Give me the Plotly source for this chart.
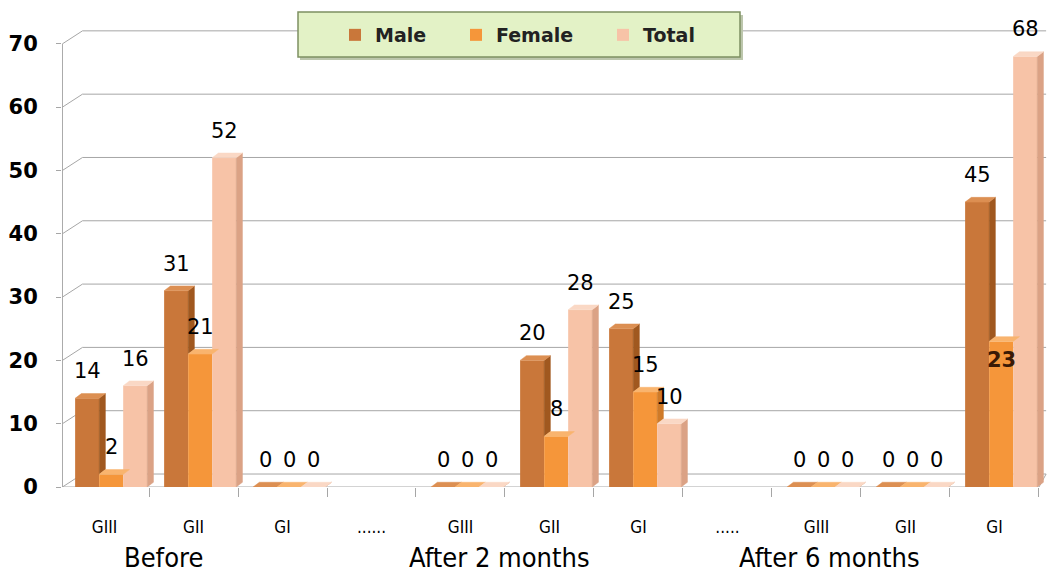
import plotly.graph_objects as go

# ---- data ----
categories = ["GIII", "GII", "GI", "......", "GIII", "GII", "GI", ".....", "GIII", "GII", "GI"]
periods = ["Before", "After 2 months", "After 6 months"]
male = [14, 31, 0, None, 0, 20, 25, None, 0, 0, 45]
female = [2, 21, 0, None, 0, 8, 15, None, 0, 0, 23]
total = [16, 52, 0, None, 0, 28, 10, None, 0, 0, 68]
y_ticks = [0, 10, 20, 30, 40, 50, 60, 70]

# ---- layout constants ----
W, H = 1051, 576
ML, MR, MT, MB = 62, 4, 28, 89
X_MIN, X_MAX = -0.4775, 10.59
Y_MIN, Y_MAX = 0, 72.5
BAR_W = 0.27
DEPTH_X, DEPTH_Y = 0.07, 0.75      # depth of each bar's top / side face
WALL_DX, WALL_DY = 0.23, 2.05      # offset of the back wall from the front axis
FRONT_RIGHT = 10.5
WALL_RIGHT = 10.58
PERIOD_X = [0.66, 4.44, 8.15]       # horizontal centre of each period caption
INSIDE_LABELS = {("Female", 10)}    # labels placed inside the top of their bar
LEGEND_PX = [335, 456, 603]         # left edge of each legend entry (pixels)

FONT_NUM = "DejaVu Sans, Liberation Sans, sans-serif"
FONT_CAT = "DejaVu Sans Condensed, Liberation Sans, sans-serif"
GRID = "#A6A6A6"

series = [
    # name, values, front, top, side, offset
    ("Male", male, "#C9773A", "#DC8F52", "#A0581F", -0.33),
    ("Female", female, "#F5963A", "#F9B46E", "#CF7A28", -0.06),
    ("Total", total, "#F7C3A7", "#FAD8C5", "#DBA285", 0.21),
]
legend_ids = ["legend", "legend2", "legend3"]


def px_x(p):
    return (p - ML) / (W - ML - MR)


def px_y(p):
    return (H - MB - p) / (H - MT - MB)


fig = go.Figure()
xs = list(range(len(categories)))

# front faces
for (name, vals, front, top, side, off), lg in zip(series, legend_ids):
    fig.add_trace(go.Bar(
        x=xs, y=vals, name=name, width=BAR_W, offset=off, legend=lg,
        marker=dict(color=front, line=dict(width=0)),
        hoverinfo="skip",
    ))

# top and side faces give the bars some depth
for k, (name, vals, front, top, side, off) in enumerate(series):
    nxt = series[k + 1][1] if k + 1 < len(series) else None
    tx, ty, sx, sy = [], [], [], []
    for i, v in enumerate(vals):
        if v is None:
            continue
        x0 = i + off
        x1 = x0 + BAR_W
        tx += [x0, x1, x1 + DEPTH_X, x0 + DEPTH_X, x0, None]
        ty += [v, v, v + DEPTH_Y, v + DEPTH_Y, v, None]
        b = 0 if nxt is None or nxt[i] is None else min(nxt[i], v)
        if v > b or nxt is None:
            sx += [x1, x1 + DEPTH_X, x1 + DEPTH_X, x1, x1, None]
            sy += [b, b + DEPTH_Y, v + DEPTH_Y, v, b, None]
    fig.add_trace(go.Scatter(x=sx, y=sy, mode="lines", fill="toself",
                             fillcolor=side, line=dict(color=side, width=0.5),
                             hoverinfo="skip", showlegend=False))
    fig.add_trace(go.Scatter(x=tx, y=ty, mode="lines", fill="toself",
                             fillcolor=top, line=dict(color=top, width=0.5),
                             hoverinfo="skip", showlegend=False))

# value labels
annotations = []
for name, vals, front, top, side, off in series:
    for i, v in enumerate(vals):
        if v is None:
            continue
        inside = (name, i) in INSIDE_LABELS
        annotations.append(dict(
            x=i + off + BAR_W / 2, y=v, xref="x", yref="y",
            text=str(v), showarrow=False, yanchor="middle",
            yshift=-19 if inside else 27,
            font=dict(family=FONT_NUM, size=21,
                      color="#3A1A05" if inside else "#000000",
                      weight="bold" if inside else "normal"),
        ))

# period captions
for px, label in zip(PERIOD_X, periods):
    annotations.append(dict(
        x=px, y=0, xref="x", yref="y", yshift=-70, yanchor="middle",
        text=label, showarrow=False,
        font=dict(family=FONT_CAT, size=27, color="#000000"),
    ))

# walls and gridlines
shapes = []
for v in y_ticks:
    shapes.append(dict(type="line", xref="x", yref="y", layer="below",
                       x0=X_MIN + 0.005, y0=v, x1=X_MIN + WALL_DX, y1=v + WALL_DY,
                       line=dict(color=GRID, width=1)))
    shapes.append(dict(type="line", xref="x", yref="y", layer="below",
                       x0=X_MIN + WALL_DX, y0=v + WALL_DY, x1=WALL_RIGHT, y1=v + WALL_DY,
                       line=dict(color=GRID, width=1)))
# value axis line
shapes.append(dict(type="line", xref="x", yref="y", layer="below",
                   x0=X_MIN + 0.005, y0=0, x1=X_MIN + 0.005, y1=70,
                   line=dict(color=GRID, width=1)))
# floor front edge and right corner
shapes.append(dict(type="line", xref="x", yref="y", layer="below",
                   x0=X_MIN, y0=0, x1=FRONT_RIGHT, y1=0,
                   line=dict(color=GRID, width=1)))
shapes.append(dict(type="line", xref="x", yref="y", layer="below",
                   x0=FRONT_RIGHT, y0=0, x1=WALL_RIGHT, y1=WALL_DY,
                   line=dict(color=GRID, width=1)))

# legend frame with a soft drop shadow
shapes.append(dict(type="rect", xref="paper", yref="paper", layer="above",
                   x0=px_x(300), x1=px_x(743), y0=px_y(60), y1=px_y(15),
                   fillcolor="#BCC6AC", line=dict(width=0)))
shapes.append(dict(type="rect", xref="paper", yref="paper", layer="above",
                   x0=px_x(298), x1=px_x(740), y0=px_y(57), y1=px_y(12),
                   fillcolor="#E3F2C6", line=dict(color="#7E9062", width=1.5)))

legend_style = dict(
    orientation="h", y=px_y(35), xanchor="left", yanchor="middle",
    bgcolor="rgba(0,0,0,0)", borderwidth=0,
    font=dict(family=FONT_NUM, size=19, color="#222222", weight="bold"),
)

fig.update_layout(
    width=W, height=H,
    margin=dict(l=ML, r=MR, t=MT, b=MB),
    paper_bgcolor="white", plot_bgcolor="white",
    barmode="overlay",
    showlegend=True,
    legend=dict(x=px_x(LEGEND_PX[0]), **legend_style),
    legend2=dict(x=px_x(LEGEND_PX[1]), **legend_style),
    legend3=dict(x=px_x(LEGEND_PX[2]), **legend_style),
    xaxis=dict(
        range=[X_MIN, X_MAX], showgrid=False, zeroline=False, showline=False,
        tickmode="array", tickvals=xs, ticktext=categories, ticks="",
        tickfont=dict(family=FONT_CAT, size=17, color="#000000"),
        ticklabelstandoff=28,
        minor=dict(tickmode="array", tickvals=[i - 0.5 for i in range(len(categories) + 1)],
                   ticks="outside", ticklen=9, tickcolor=GRID, showgrid=False),
        fixedrange=True,
    ),
    yaxis=dict(
        range=[Y_MIN, Y_MAX], showgrid=False, zeroline=False, showline=False,
        tickmode="array", tickvals=y_ticks, ticks="outside", ticklen=5, tickcolor=GRID,
        tickfont=dict(family=FONT_NUM, size=21, color="#000000", weight="bold"),
        ticklabelstandoff=14,
        fixedrange=True,
    ),
    annotations=annotations,
    shapes=shapes,
)

fig.write_html("out.html")
